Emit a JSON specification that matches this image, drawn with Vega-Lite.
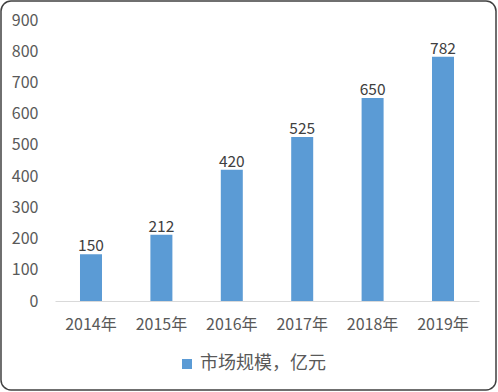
{
  "$schema": "https://vega.github.io/schema/vega-lite/v6.json",
  "width": 495,
  "height": 389,
  "padding": {"left": 1, "top": 1, "right": 2, "bottom": 2},
  "autosize": {"type": "none"},
  "config": {
    "view": {"stroke": "#404040", "strokeWidth": 1.5, "cornerRadius": 10},
    "font": "Noto Sans CJK SC"
  },
  "data": {
    "values": [
      {"year": "2014年", "value": 150, "series": "市场规模，亿元"},
      {"year": "2015年", "value": 212, "series": "市场规模，亿元"},
      {"year": "2016年", "value": 420, "series": "市场规模，亿元"},
      {"year": "2017年", "value": 525, "series": "市场规模，亿元"},
      {"year": "2018年", "value": 650, "series": "市场规模，亿元"},
      {"year": "2019年", "value": 782, "series": "市场规模，亿元"}
    ]
  },
  "encoding": {
    "x": {
      "field": "year",
      "type": "nominal",
      "sort": null,
      "scale": {"range": [54, 478], "paddingInner": 0.6875, "paddingOuter": 0.355},
      "axis": {
        "title": null,
        "offset": -89,
        "domainColor": "#d9d9d9",
        "domainWidth": 1,
        "ticks": false,
        "tickSize": 0,
        "labelAngle": 0,
        "labelPadding": 15,
        "labelFontSize": 16,
        "labelColor": "#595959",
        "labelFont": "Noto Sans CJK SC"
      }
    },
    "y": {
      "field": "value",
      "type": "quantitative",
      "scale": {"domain": [0, 900], "range": [300, 19], "zero": true},
      "axis": {
        "title": null,
        "offset": -54,
        "domain": false,
        "ticks": false,
        "tickSize": 0,
        "grid": false,
        "values": [0, 100, 200, 300, 400, 500, 600, 700, 800, 900],
        "labelPadding": 17,
        "labelFontSize": 16,
        "labelColor": "#595959",
        "labelFont": "Noto Sans CJK SC"
      }
    }
  },
  "layer": [
    {
      "mark": {"type": "bar"},
      "encoding": {
        "y2": {"datum": 0},
        "color": {
          "field": "series",
          "type": "nominal",
          "scale": {"range": ["#5b9bd5"]},
          "legend": {
            "title": null,
            "orient": "none",
            "legendX": 177,
            "legendY": 354,
            "symbolType": "square",
            "symbolSize": 100,
            "symbolStrokeWidth": 0,
            "labelOffset": 4,
            "labelFontSize": 18,
            "labelColor": "#595959",
            "labelLimit": 300,
            "labelFont": "Noto Sans CJK SC"
          }
        }
      }
    },
    {
      "mark": {"type": "text", "dy": -3, "baseline": "alphabetic", "fontSize": 15.5, "color": "#404040", "font": "Noto Sans CJK SC"},
      "encoding": {"text": {"field": "value", "type": "quantitative"}}
    }
  ]
}
